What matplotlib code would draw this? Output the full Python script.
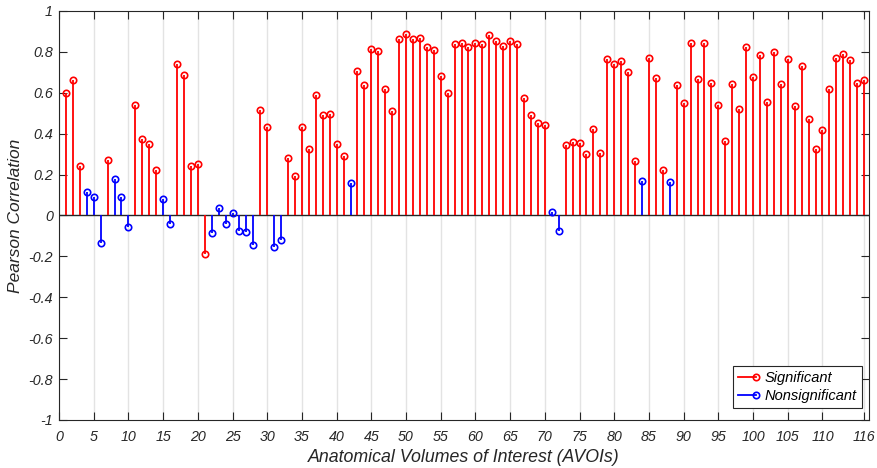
import numpy as np
import matplotlib
matplotlib.use("Agg")
import matplotlib.pyplot as plt
from matplotlib import font_manager
from matplotlib.lines import Line2D
from matplotlib.legend_handler import HandlerBase

# Pearson correlation per AVOI (1..116)
avoi = np.arange(1, 117)
corr = [
    0.598, 0.662, 0.243, 0.114, 0.092, -0.134, 0.273, 0.178, 0.092, -0.056,
    0.541, 0.376, 0.348, 0.221, 0.080, -0.044, 0.740, 0.688, 0.243, 0.250,
    -0.188, -0.085, 0.036, -0.044, 0.013, -0.074, -0.080, -0.145, 0.515, 0.435,
    -0.154, -0.119, 0.281, 0.194, 0.435, 0.325, 0.587, 0.492, 0.495, 0.351,
    0.289, 0.157, 0.708, 0.636, 0.812, 0.806, 0.616, 0.511, 0.861, 0.887,
    0.861, 0.869, 0.825, 0.809, 0.681, 0.601, 0.840, 0.843, 0.825, 0.843,
    0.837, 0.881, 0.851, 0.828, 0.851, 0.838, 0.575, 0.489, 0.454, 0.440,
    0.018, -0.077, 0.345, 0.361, 0.353, 0.301, 0.422, 0.304, 0.763, 0.742,
    0.757, 0.701, 0.266, 0.167, 0.768, 0.673, 0.224, 0.163, 0.639, 0.549,
    0.843, 0.665, 0.843, 0.650, 0.541, 0.364, 0.645, 0.520, 0.824, 0.676,
    0.783, 0.557, 0.797, 0.642, 0.763, 0.534, 0.730, 0.471, 0.325, 0.420,
    0.616, 0.771, 0.791, 0.760, 0.647, 0.662,
]
nonsig = [4, 5, 6, 8, 9, 10, 15, 16, 22, 23, 24, 25, 26, 27, 28, 31, 32, 42, 71, 72, 84, 88]

xticks = [0, 5, 10, 15, 20, 25, 30, 35, 40, 45, 50, 55, 60, 65, 70, 75, 80, 85, 90, 95, 100, 105, 110, 116]
yticks = [-1, -0.8, -0.6, -0.4, -0.2, 0, 0.2, 0.4, 0.6, 0.8, 1]
ytick_labels = ['-1', '-0.8', '-0.6', '-0.4', '-0.2', '0', '0.2', '0.4', '0.6', '0.8', '1']

plt.rcParams['font.family'] = ['Liberation Sans', 'DejaVu Sans']
plt.rcParams['font.style'] = 'italic'

# tick labels look condensed in the original: use Narrow if it is there
try:
    font_manager.findfont(font_manager.FontProperties(family='Liberation Sans Narrow'),
                          fallback_to_default=False)
    tick_family, tick_size = 'Liberation Sans Narrow', 11.5
except Exception:
    tick_family, tick_size = 'Liberation Sans', 10.3

corr = np.array(corr)
is_ns = np.isin(avoi, nonsig)
red, blue = '#ff0000', '#0000ff'
ink = '#262626'


class StemHandler(HandlerBase):
    # line with the marker at its right end, like a MATLAB stem legend entry
    def create_artists(self, legend, orig_handle, xdescent, ydescent,
                       width, height, fontsize, trans):
        y = (height - ydescent) / 2
        x0, x1 = -xdescent, -xdescent + width
        col = orig_handle.get_color()
        line = Line2D([x0, x1], [y, y], color=col, lw=1.3)
        mk = Line2D([x1], [y], marker='o', mfc='none', mec=col, ms=4.6, mew=1.2, lw=0)
        line.set_transform(trans)
        mk.set_transform(trans)
        return [line, mk]


fig = plt.figure(figsize=(8.78, 4.68), dpi=100)
ax = fig.add_axes([0.0672, 0.1026, 0.9225, 0.874])

ax.set_xlim(0, 116.7)
ax.set_ylim(-1, 1)
ax.set_xticks(xticks)
ax.set_yticks(yticks)
ax.set_yticklabels(ytick_labels)
ax.xaxis.grid(True, color='#e3e3e3', linewidth=1.0)
ax.set_axisbelow(True)

for mask, col in [(~is_ns, red), (is_ns, blue)]:
    ax.vlines(avoi[mask], 0, corr[mask], color=col, linewidth=1.3, zorder=3)
    ax.plot(avoi[mask], corr[mask], 'o', mfc='none', mec=col, ms=4.6, mew=1.2, zorder=4)

ax.axhline(0, color=ink, linewidth=1.0, zorder=2)

ax.tick_params(direction='in', length=5.5, width=0.8, colors=ink,
               top=True, right=True, labelsize=tick_size, labelfontfamily=tick_family)
ax.tick_params(axis='x', pad=7)
ax.tick_params(axis='y', pad=4.5)
for s in ax.spines.values():
    s.set_color(ink)
    s.set_linewidth(0.8)

ax.set_xlabel('Anatomical Volumes of Interest (AVOIs)', fontsize=12.8, color=ink, labelpad=4)
ax.set_ylabel('Pearson Correlation', fontsize=12.5, color=ink, labelpad=4)

h_sig = Line2D([], [], color=red)
h_ns = Line2D([], [], color=blue)
leg = ax.legend([h_sig, h_ns], ['Significant', 'Nonsignificant'], loc='lower right',
                bbox_to_anchor=(0.9915, 0.029), borderaxespad=0,
                handler_map={Line2D: StemHandler()},
                handlelength=1.25, handletextpad=0.6, fontsize=10.5,
                fancybox=False, framealpha=1, edgecolor=ink,
                borderpad=0.35, labelspacing=0.3)
leg.get_frame().set_linewidth(0.8)

fig.savefig('out.png', dpi=100)
